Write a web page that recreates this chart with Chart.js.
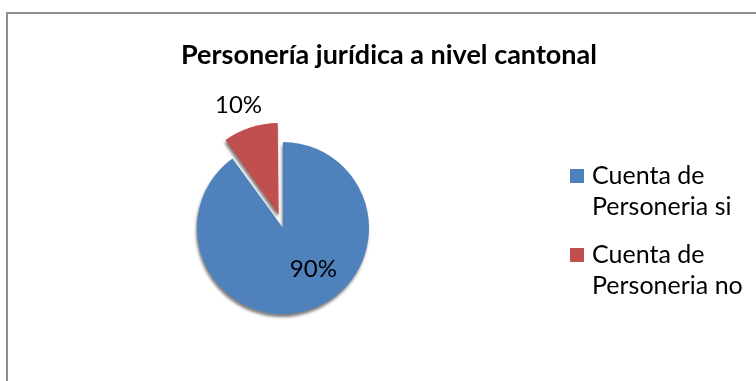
<!DOCTYPE html>
<html>
<head>
<meta charset="utf-8">
<script src="https://cdn.jsdelivr.net/npm/chart.js@4/dist/chart.umd.min.js"></script>
<style>
  html, body { margin: 0; padding: 0; background: #fff; overflow: hidden; }
  #box { position: absolute; left: 6px; top: 12px; width: 762px; height: 380px; border: 2px solid #8e8e8e; }
  #myChart { display: block; }
</style>
</head>
<body>
<div id="box"><canvas id="myChart" width="762" height="380"></canvas></div>
<script>
'use strict';

const chartTitle = 'Personería jurídica a nivel cantonal';
const categories = [['Cuenta de', 'Personeria si'], ['Cuenta de', 'Personeria no']];
const values = [90, 10];
const sliceColors = ['#4F81BD', '#C0504D'];
// chart.js scales the arc offset down when drawing
const explode = [0, 56];

const FONT = 'Lato, "Noto Sans", sans-serif';

// soft drop shadow under the slices, like the excel 3d look
const pieShadow = {
  id: 'pieShadow',
  beforeDatasetsDraw(chart) {
    const { ctx } = chart;
    ctx.save();
    ctx.shadowColor = 'rgba(0, 0, 0, 0.5)';
    ctx.shadowBlur = 3;
    ctx.shadowOffsetX = -1;
    ctx.shadowOffsetY = 3;
  },
  afterDatasetsDraw(chart) {
    chart.ctx.restore();
  }
};

// percentage labels
const pctLabels = {
  id: 'pctLabels',
  afterDatasetsDraw(chart, args, opts) {
    const { ctx } = chart;
    const ds = chart.data.datasets[0];
    const total = ds.data.reduce((a, b) => a + b, 0);
    const arcs = chart.getDatasetMeta(0).data;
    ctx.save();
    ctx.font = opts.font;
    ctx.fillStyle = '#000';
    ctx.textAlign = 'center';
    ctx.textBaseline = 'middle';
    arcs.forEach((arc, i) => {
      const p = arc.getProps(['x', 'y', 'startAngle', 'endAngle', 'outerRadius']);
      const place = opts.place[i];
      const mid = (p.startAngle + p.endAngle) / 2 + place.turn * Math.PI / 180;
      const d = p.outerRadius * place.r + (ds.offset[i] || 0) / 4;
      const pct = Math.round(ds.data[i] / total * 100) + '%';
      ctx.fillText(pct, p.x + Math.cos(mid) * d, p.y + Math.sin(mid) * d);
    });
    ctx.restore();
  }
};

// title and the wrapped legend on the right
const sideText = {
  id: 'sideText',
  afterDraw(chart, args, opts) {
    const { ctx } = chart;
    ctx.save();
    ctx.fillStyle = '#000';
    ctx.textBaseline = 'middle';

    ctx.font = opts.titleFont;
    ctx.textAlign = 'center';
    ctx.fillText(chartTitle, chart.width / 2, opts.titleY);

    ctx.font = opts.legendFont;
    ctx.textAlign = 'left';
    let y = opts.legendY;
    chart.data.labels.forEach((lines, i) => {
      ctx.fillStyle = chart.data.datasets[0].backgroundColor[i];
      ctx.fillRect(opts.legendX, y - 7, 14, 14);
      ctx.fillStyle = '#000';
      lines.forEach((line, j) => {
        ctx.fillText(line, opts.legendX + 22, y + j * opts.lineGap);
      });
      y += opts.itemGap;
    });
    ctx.restore();
  }
};

const ctx = document.getElementById('myChart').getContext('2d');

const myChart = new Chart(ctx, {
  type: 'pie',
  data: {
    labels: categories,
    datasets: [{
      data: values,
      backgroundColor: sliceColors,
      borderWidth: 0,
      offset: explode,
      hoverOffset: 0,
      radius: 86
    }]
  },
  options: {
    responsive: false,
    animation: false,
    events: [],
    layout: { padding: { left: 180, right: 392, top: 100, bottom: 52 } },
    plugins: {
      legend: { display: false },
      title: { display: false },
      tooltip: { enabled: false },
      pctLabels: {
        font: '24px ' + FONT,
        place: [{ r: 0.6, turn: -18 }, { r: 1.35, turn: -2 }]
      },
      sideText: {
        titleFont: 'bold 27px ' + FONT,
        titleY: 41,
        legendFont: '25px ' + FONT,
        legendX: 562,
        legendY: 162,
        lineGap: 31,
        itemGap: 79
      }
    }
  },
  plugins: [pieShadow, pctLabels, sideText]
});
</script>
</body>
</html>
